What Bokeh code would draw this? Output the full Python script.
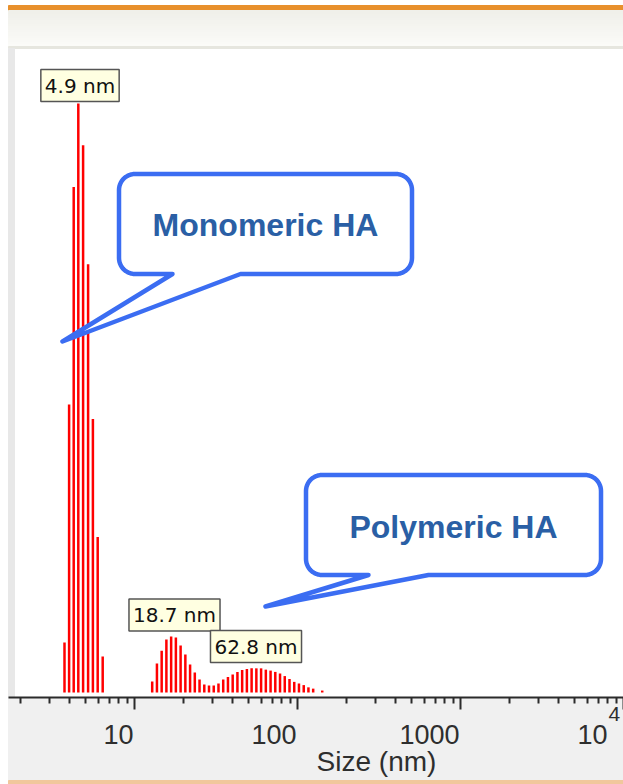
import numpy as np
from bokeh.plotting import figure
from bokeh.models import Range1d, FixedTicker, Label, LinearScale
from bokeh.embed import file_html
from bokeh.resources import INLINE

# ---------------- data ----------------
mono_size_nm = [3.720, 3.970, 4.237, 4.521, 4.838, 5.192, 5.556, 5.946, 6.381]
mono_intensity = [1.55, 8.95, 15.7, 18.3, 17.0, 13.3, 8.5, 4.83, 1.12]

poly_size_nm = [12.84, 13.73, 14.68, 15.69, 16.78, 17.94, 19.18, 20.51, 21.93,
                23.44, 25.06, 26.80, 28.65, 30.63, 32.75, 35.02, 37.44, 40.03,
                42.80, 45.76, 48.92, 52.30, 55.92, 59.79, 63.93, 68.35, 73.07,
                78.13, 83.53, 89.31, 95.49, 102.1, 109.2, 116.7, 124.8, 141.8]
poly_intensity = [0.34, 0.90, 1.30, 1.65, 1.74, 1.71, 1.46, 1.18, 0.87, 0.62,
                  0.40, 0.25, 0.22, 0.22, 0.28, 0.40, 0.48, 0.56, 0.64, 0.70,
                  0.73, 0.75, 0.75, 0.75, 0.71, 0.68, 0.64, 0.59, 0.51, 0.42,
                  0.33, 0.28, 0.23, 0.16, 0.12, 0.06]

peak_labels = ["4.9 nm", "18.7 nm", "62.8 nm"]
tick_values = [10, 100, 1000, 10000]
tick_labels = ["10", "100", "1000", "10"]
minor_ticks = [m * d for d in (1, 10, 100, 1000) for m in range(2, 10)]
bubble_texts = ["Monomeric HA", "Polymeric HA"]

# ---------------- figure ----------------
W, H = 623, 784
p = figure(width=W, height=H, x_axis_type="log", y_axis_location=None,
           x_range=Range1d(1.5063, 10000.0), y_range=Range1d(-2.858, 21.497),
           min_border=0, toolbar_location=None, output_backend="svg",
           background_fill_color="white", border_fill_color="white",
           outline_line_color=None)
p.xgrid.visible = False
p.ygrid.visible = False

# pixel helper ranges (linear) for decorations
p.extra_x_ranges = {"px": Range1d(0, 623)}
p.extra_y_ranges = {"py": Range1d(784, 0)}
p.extra_x_scales = {"px": LinearScale()}
p.extra_y_scales = {"py": LinearScale()}
PX = dict(x_range_name="px", y_range_name="py")

# grey area under the axis + thin peach line at the very bottom
p.quad(left=8, right=623, top=697, bottom=780, color="#f0f0f0", **PX)
p.quad(left=8, right=623, top=780, bottom=784, color="#f1c79c", **PX)

# header: orange line + soft gradient
p.quad(left=8, right=623, top=5, bottom=10, color="#e8902c", **PX)
c0 = np.array([240, 240, 234]); c1 = np.array([251, 251, 248])
tops, bots, cols = [], [], []
for i in range(18):
    t = i / 17
    c = (c0 * (1 - t) + c1 * t).astype(int)
    tops.append(10 + 2 * i); bots.append(12 + 2 * i)
    cols.append("#%02x%02x%02x" % tuple(c))
p.quad(left=8, right=623, top=tops, bottom=bots, color=cols, **PX)
p.quad(left=8, right=623, top=46, bottom=48, color="#e6e6df", **PX)
# left grey strip of the panel
p.quad(left=8, right=14, top=48, bottom=697, color="#e8e8e8", **PX)

# ---------------- bars ----------------
p.segment(x0=mono_size_nm, y0=0, x1=mono_size_nm, y1=mono_intensity,
          line_color="#ff0000", line_width=2.5, line_cap="butt")
p.segment(x0=poly_size_nm, y0=0, x1=poly_size_nm, y1=poly_intensity,
          line_color="#ff0000", line_width=2.5, line_cap="butt")

# ---------------- axis (drawn inside the frame at a fixed position) ----------------
ax = p.xaxis[0]
ax.fixed_location = -0.1553
ax.bounds = (1.6865, 10000.0)
ax.ticker = FixedTicker(ticks=tick_values, minor_ticks=minor_ticks)
ax.major_label_text_font_size = "2px"
ax.major_label_text_alpha = 0
ax.major_label_standoff = 0
ax.axis_line_color = "#2b2b2b"
ax.axis_line_width = 2
ax.major_tick_in = 0
ax.major_tick_out = 12
ax.major_tick_line_width = 2
ax.major_tick_line_color = "#2b2b2b"
ax.minor_tick_in = 0
ax.minor_tick_out = 6
ax.minor_tick_line_width = 2
ax.minor_tick_line_color = "#2b2b2b"

TXT = "#2e2e2e"
for v, t in zip(tick_values[:3], tick_labels[:3]):
    p.add_layout(Label(x=v, y=734, y_range_name="py", text=t, text_align="right",
                       text_baseline="middle", x_offset=-1,
                       text_font="Liberation Sans", text_font_size="27px",
                       text_color=TXT))
p.add_layout(Label(x=tick_values[3], y=734, y_range_name="py", text=tick_labels[3],
                   text_align="right", text_baseline="middle", x_offset=-16,
                   text_font="Liberation Sans", text_font_size="27px",
                   text_color=TXT))
p.add_layout(Label(x=tick_values[3], y=713, y_range_name="py", text="4",
                   text_align="left", text_baseline="middle", x_offset=-15,
                   text_font="Liberation Sans", text_font_size="21px",
                   text_color=TXT))
p.add_layout(Label(x=376, y=761, text="Size (nm)", text_align="center",
                   text_baseline="middle", text_font="Liberation Sans",
                   text_font_size="28px", text_color=TXT, **PX))

# ---------------- speech bubbles ----------------
def bubble_path(x0, x1, y0, y1, r, base_l, base_r, tip):
    xs, ys = [base_r], [y1]
    def arc(cx, cy, a0, a1):
        t = np.linspace(a0, a1, 14)
        xs.extend(cx + r * np.cos(t)); ys.extend(cy + r * np.sin(t))
    arc(x1 - r, y1 - r, np.pi / 2, 0)
    arc(x1 - r, y0 + r, 0, -np.pi / 2)
    arc(x0 + r, y0 + r, -np.pi / 2, -np.pi)
    arc(x0 + r, y1 - r, np.pi, np.pi / 2)
    xs += [base_l, tip[0], base_r]; ys += [y1, tip[1], y1]
    return xs, ys

BLUE = "#3b6df2"
for (x0, x1, y0, y1, bl, br, tip) in [(118.5, 411.5, 173.5, 273.5, 172, 240, (62, 341)),
                                      (305.5, 600.5, 474.5, 574.5, 368, 428, (265, 606))]:
    xs, ys = bubble_path(x0, x1, y0, y1, 16, bl, br, tip)
    p.patch(xs, ys, fill_color="white", line_color=BLUE, line_width=4.5,
            line_join="round", **PX)

for (cx, by), t in zip([(265, 224), (453, 526)], bubble_texts):
    p.add_layout(Label(x=cx, y=by, text=t, text_align="center", text_baseline="middle",
                       text_font="Liberation Sans", text_font_style="bold",
                       text_font_size="32px", text_color="#2a5fa5", **PX))

# ---------------- peak labels ----------------
for (cx, cy), t in zip([(79.5, 85), (174, 614.5), (255.5, 646)], peak_labels):
    p.add_layout(Label(x=cx, y=cy, text=t, text_align="center", text_baseline="middle",
                       text_font="DejaVu Sans", text_font_size="20px", text_color="#111111",
                       background_fill_color="#ffffe1", border_line_color="#555555",
                       border_line_width=1.5, padding=4, **PX))

open("out.html", "w").write(file_html(p, INLINE))
